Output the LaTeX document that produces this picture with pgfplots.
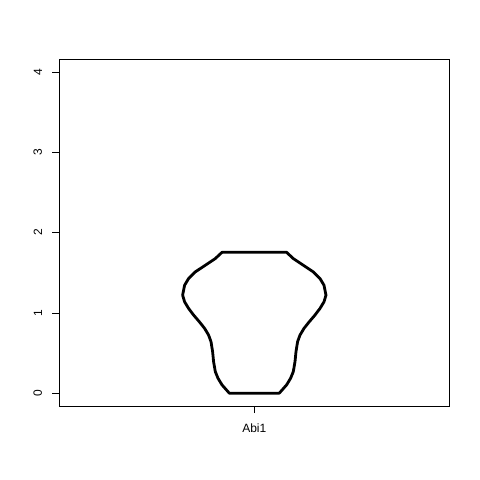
\documentclass[border=0pt]{standalone}
\usepackage{pgfplots}
\pgfplotsset{compat=1.18}
\usepackage{fontspec}
\setmainfont{Liberation Sans}
\begin{document}
\begin{tikzpicture}[x=1pt,y=1pt]
\path[use as bounding box] (0,0) rectangle (480,480);
\begin{axis}[
  at={(59.3pt,74pt)}, anchor=south west,
  width=390pt, height=346.7pt, scale only axis,
  xmin=0.5, xmax=1.5,
  ymin=-0.16, ymax=4.16,
  xtick={1}, xticklabels={Abi1},
  ytick={0,1,2,3,4},
  tick align=outside,
  major tick length=7pt,
  xtick pos=bottom, ytick pos=left,
  axis line style={line width=0.8pt},
  every tick/.style={black, line width=0.8pt},
  /pgf/number format/assume math mode=true,
  tick label style={font=\fontsize{12}{14}\selectfont},
  yticklabel style={rotate=90, anchor=south, inner sep=0pt, yshift=10pt},
  xticklabel style={anchor=north, inner sep=0pt, yshift=-11pt},
]
% violin outline
\addplot[black, line width=2.8pt, line join=round] coordinates {
  (0.9172,1.755) (0.9000,1.677) (0.8744,1.594) (0.8487,1.511)
  (0.8315,1.428) (0.8213,1.345) (0.8162,1.221) (0.8213,1.138)
  (0.8315,1.056) (0.8444,0.973) (0.8590,0.890) (0.8726,0.807)
  (0.8828,0.724) (0.8890,0.641) (0.8931,0.517) (0.8956,0.393)
  (0.9000,0.268) (0.9069,0.186) (0.9172,0.103) (0.9359,0)
  (1.0641,0) (1.0828,0.103) (1.0931,0.186) (1.1000,0.268)
  (1.1044,0.393) (1.1069,0.517) (1.1110,0.641) (1.1172,0.724)
  (1.1274,0.807) (1.1410,0.890) (1.1556,0.973) (1.1685,1.056)
  (1.1787,1.138) (1.1838,1.221) (1.1787,1.345) (1.1685,1.428)
  (1.1513,1.511) (1.1256,1.594) (1.1000,1.677) (1.0828,1.755)
} -- cycle;
\end{axis}
\end{tikzpicture}
\end{document}
